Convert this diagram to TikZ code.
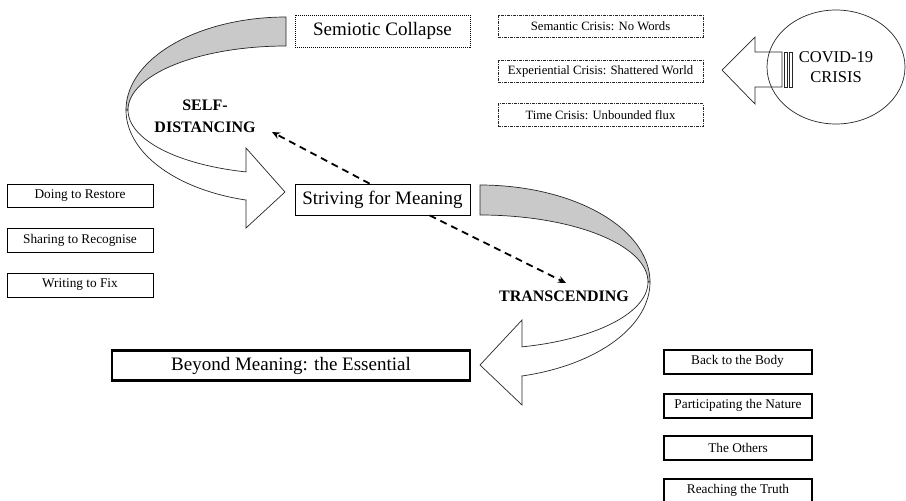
\documentclass[tikz,border=0pt]{standalone}
\usepackage{fontspec}
\setmainfont{Liberation Serif}
\usetikzlibrary{shapes.geometric,arrows.meta,calc}
\definecolor{bandgray}{RGB}{201,201,201}
\begin{document}
\begin{tikzpicture}[x=1pt,y=-1pt,
  thinbox/.style={draw=black, line width=0.8pt, inner sep=0pt, fill=white},
  thickbox/.style={draw=black, line width=2.2pt, inner sep=0pt, fill=white},
  dotbox/.style={draw=black, densely dotted, line width=1pt, inner sep=0pt},
  dashbox/.style={draw=black!85, line width=0.7pt, inner sep=0pt, dash pattern=on 3pt off 1pt on 1pt off 1pt},
  ribbon/.style={draw=black!85, line width=0.7pt},
  dasharrow/.style={line width=1.8pt, dash pattern=on 7pt off 5pt, -{Stealth[length=8pt,width=7pt]}},
  bigtxt/.style={font=\fontsize{19}{22}\selectfont},
  smalltxt/.style={font=\fontsize{13.3}{16}\selectfont},
  crisistxt/.style={font=\fontsize{12.7}{15}\selectfont},
  boldlabel/.style={font=\fontsize{16}{22}\selectfont\bfseries, align=center, inner sep=0pt}
]
\useasboundingbox (0,0) rectangle (906,501);

% ---------- top-left curved ribbon arrow (SELF-DISTANCING)
\filldraw[ribbon, fill=bandgray]
  plot[domain=90:180, samples=60] ({286+160*cos(-\x)}, {110+93*sin(-\x)})
  -- plot[domain=180:270, samples=60] ({286+158*cos(\x)}, {110+64*sin(\x)})
  -- cycle;
\filldraw[ribbon, fill=white]
  (246,148) -- (285,192) -- (246,228) -- (246,200)
  -- plot[domain=104.5:180, samples=60] ({286+160*cos(\x)}, {110+93*sin(\x)})
  -- plot[domain=104.7:180, samples=60] ({286+158*cos(284.7-\x)}, {110+64*sin(284.7-\x)})
  -- cycle;

% ---------- right curved ribbon arrow (TRANSCENDING)
\filldraw[ribbon, fill=bandgray]
  plot[domain=-90:0, samples=60] ({480+170*cos(\x)}, {282+97*sin(\x)})
  -- plot[domain=-90:0, samples=60] ({480+168*cos(-90-\x)}, {282+67*sin(-90-\x)})
  -- cycle;
\filldraw[ribbon, fill=white]
  (522,320) -- (480,365) -- (522,405) -- (522,376)
  -- plot[domain=0:75.7, samples=60] ({480+170*cos(75.7-\x)}, {282+97*sin(75.7-\x)})
  -- plot[domain=0:75.5, samples=60] ({480+168*cos(\x)}, {282+67*sin(\x)})
  -- cycle;

% ---------- COVID striped block arrow
\filldraw[ribbon, fill=white]
  (722,70) -- (755,37) -- (755,52) -- (782,52) -- (782,87) -- (755,87) -- (755,104) -- cycle;
\draw[ribbon] (784.5,52) rectangle (787.5,87);
\draw[ribbon] (789.5,52) rectangle (792.5,87);

\node[ellipse, draw=black!85, line width=0.7pt, minimum width=138pt, minimum height=114pt,
      inner sep=0pt, align=center, font=\fontsize{16.5}{20}\selectfont] (covid) at (836,67)
      {COVID-19\\CRISIS};

% ---------- boxes
\node[dotbox, minimum width=175pt, minimum height=32pt, bigtxt] (semiotic) at (382.5,31) {Semiotic Collapse};

\node[dashbox, minimum width=205pt, minimum height=22pt, crisistxt] (semantic) at (600.5,26) {Semantic Crisis: No Words};
\node[dashbox, minimum width=205pt, minimum height=22pt, crisistxt] (experiential) at (600.5,71) {Experiential Crisis: Shattered World};
\node[dashbox, minimum width=205pt, minimum height=23pt, crisistxt] (timecrisis) at (600.5,115) {Time Crisis: Unbounded flux};

\node[thinbox, minimum width=175pt, minimum height=31pt, bigtxt] (striving) at (382.5,199.5) {Striving for Meaning};

\node[thinbox, minimum width=146pt, minimum height=23pt, smalltxt] (doing) at (80,195.5) {Doing to Restore};
\node[thinbox, minimum width=146pt, minimum height=24pt, smalltxt] (sharing) at (80,240) {Sharing to Recognise};
\node[thinbox, minimum width=146pt, minimum height=24pt, smalltxt] (writing) at (80,285) {Writing to Fix};

\node[thickbox, minimum width=358pt, minimum height=30pt, bigtxt] (beyond) at (291,365.5) {Beyond Meaning: the Essential};

\node[thickbox, line width=2pt, minimum width=148pt, minimum height=24pt, smalltxt] (body) at (737.5,361.5) {Back to the Body};
\node[thickbox, line width=2pt, minimum width=148pt, minimum height=24pt, smalltxt] (nature) at (738,405.5) {Participating the Nature};
\node[thickbox, line width=2pt, minimum width=148pt, minimum height=24pt, smalltxt] (others) at (738,448) {The Others};
\node[thickbox, line width=2pt, minimum width=148pt, minimum height=24pt, smalltxt] (truth) at (738,490.5) {Reaching the Truth};

% ---------- labels
\node[boldlabel] (selfdist) at (205,116) {SELF-\\DISTANCING};
\node[boldlabel] (transc) at (564,296) {TRANSCENDING};

% ---------- dashed arrows
\coordinate (sdtip) at (272,132);
\coordinate (trtip) at (566,283);
\draw[dasharrow] ($(striving.north west)+(75,0)$) -- (sdtip);
\draw[dasharrow] ($(striving.south west)+(135,0)$) -- (trtip);
\end{tikzpicture}
\end{document}
